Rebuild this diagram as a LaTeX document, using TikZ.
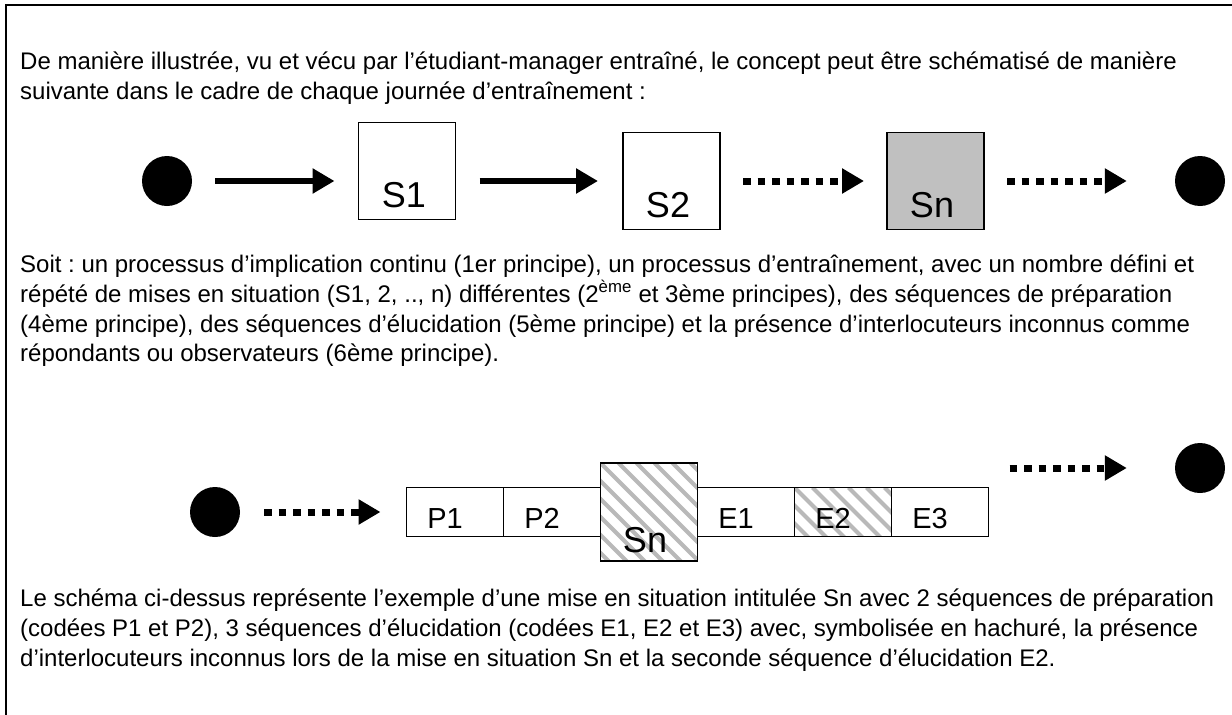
\documentclass[tikz,border=0pt]{standalone}
\usepackage{fontspec}
\setmainfont{Liberation Sans}
\usetikzlibrary{arrows.meta,calc}
\definecolor{sngray}{RGB}{192,192,192}
\definecolor{hatchgray}{RGB}{185,185,185}
\frenchspacing
\begin{document}
\begin{tikzpicture}[x=1pt,y=-1pt,
  txt/.style={anchor=base west,inner sep=0pt,font=\fontsize{24}{30}\selectfont},
  dot/.style={circle,fill=black,draw=none,minimum size=50pt,inner sep=0pt},
  sbox/.style={draw=black,line width=1.3pt,fill=white,minimum width=97pt,minimum height=97pt,inner sep=0pt,outer sep=0pt},
  ebox/.style={draw=black,line width=1.3pt,fill=white,minimum width=97pt,minimum height=49pt,inner sep=0pt,outer sep=0pt},
  biglab/.style={anchor=base,inner sep=0pt,font=\fontsize{36}{36}\selectfont},
  smlab/.style={anchor=base,inner sep=0pt,font=\fontsize{29}{29}\selectfont},
  solidarrow/.style={line width=6pt,-{Triangle[length=22pt,width=24pt]}},
  dotarrow/.style={line width=7pt,dash pattern=on 7.5pt off 7pt,-{Triangle[length=22pt,width=24pt]}},
  hatch/.style={line width=4pt,hatchgray},
  frameline/.style={line width=2.5pt}]
\useasboundingbox (0,0) rectangle (1232,715);
\fill[white] (0,0) rectangle (1232,715);
\draw[frameline] (1240,5) -- (6,5) -- (6,720);

% paragraph 1
\node[txt] (t1) at (20,69) {De manière illustrée, vu et vécu par l’étudiant-manager entraîné, le concept peut être schématisé de manière};
\node[txt] (t2) at (20,99) {suivante dans le cadre de chaque journée d’entraînement :};

% row 1
\node[dot] (c1) at (167,181) {};
\node[sbox] (s1) at (407,171) {};
\node[biglab] (s1l) at (404,207) {S1};
\node[sbox] (s2) at (671.5,181) {};
\node[biglab] (s2l) at (668,217) {S2};
\node[sbox,fill=sngray,line width=1.8pt] (sn) at (935.5,181) {};
\node[biglab] (snl) at (932,217) {Sn};
\node[dot] (c2) at (1200,181) {};
\draw[solidarrow,shorten <=23pt,shorten >=24pt] (c1.east) -- (c1.east -| s1.west);
\draw[solidarrow,shorten <=24pt,shorten >=25pt] (s1.east |- c1.east) -- (s2.west);
\draw[dotarrow,shorten <=23pt,shorten >=23pt] (s2.east) -- (sn.west);
\draw[dotarrow,shorten <=23pt,shorten >=48pt] (sn.east) -- (c2.west);

% paragraph 2
\node[txt] (t3) at (20,272) {Soit : un processus d’implication continu (1er principe), un processus d’entraînement, avec un nombre défini et};
\node[txt] (t4) at (20,302) {répété de mises en situation (S1, 2, .., n) différentes (2\textsuperscript{ème} et 3ème principes), des séquences de préparation};
\node[txt] (t5) at (20,332) {(4ème principe), des séquences d’élucidation (5ème principe) et la présence d’interlocuteurs inconnus comme};
\node[txt] (t6) at (20,361) {répondants ou observateurs (6ème principe).};

% row 2
\node[dot] (c3) at (215,512) {};
\node[ebox] (p1) at (455,512) {};
\node[ebox,anchor=west] (p2) at (p1.east) {};
\node[sbox,minimum height=98pt,anchor=west] (sn2) at (p2.east) {};
\node[ebox,anchor=west] (e1) at (sn2.east) {};
\node[ebox,anchor=west] (e2) at (e1.east) {};
\node[ebox,anchor=west] (e3) at (e2.east) {};
\node[dot] (c4) at (1200,468) {};

\begin{scope}
\clip (sn2.north west) rectangle (sn2.south east);
\foreach \i in {-8,...,8} \draw[hatch] ($(sn2.north west)+(\i*18,0)$) -- ++(110,110);
\end{scope}
\begin{scope}
\clip (e2.north west) rectangle (e2.south east);
\foreach \i in {-5,...,8} \draw[hatch] ($(e2.north west)+(\i*18,0)$) -- ++(110,110);
\end{scope}
\draw[line width=1.3pt] (sn2.north west) rectangle (sn2.south east);
\draw[line width=1.3pt] (e2.north west) rectangle (e2.south east);

\node[smlab] (p1l) at ($(p1.south)+(-10,-8)$) {P1};
\node[smlab] (p2l) at ($(p2.south)+(-10,-8)$) {P2};
\node[biglab] (sn2l) at ($(sn2.south)+(-4,-9)$) {Sn};
\node[smlab] (e1l) at ($(e1.south)+(-10,-8)$) {E1};
\node[smlab] (e2l) at ($(e2.south)+(-10,-8)$) {E2};
\node[smlab] (e3l) at ($(e3.south)+(-10,-8)$) {E3};

\draw[dotarrow,shorten <=24pt,shorten >=26pt] (c3.east) -- (c3.east -| p1.west);
\draw[dotarrow,shorten <=21pt,shorten >=48pt] (e3.east |- c4.west) -- (c4.west);

% paragraph 3
\node[txt] (t7) at (20,606) {Le schéma ci-dessus représente l’exemple d’une mise en situation intitulée Sn avec 2 séquences de préparation};
\node[txt] (t8) at (20,636) {(codées P1 et P2), 3 séquences d’élucidation (codées E1, E2 et E3) avec, symbolisée en hachuré, la présence};
\node[txt] (t9) at (20,666) {d’interlocuteurs inconnus lors de la mise en situation Sn et la seconde séquence d’élucidation E2.};
\end{tikzpicture}
\end{document}
